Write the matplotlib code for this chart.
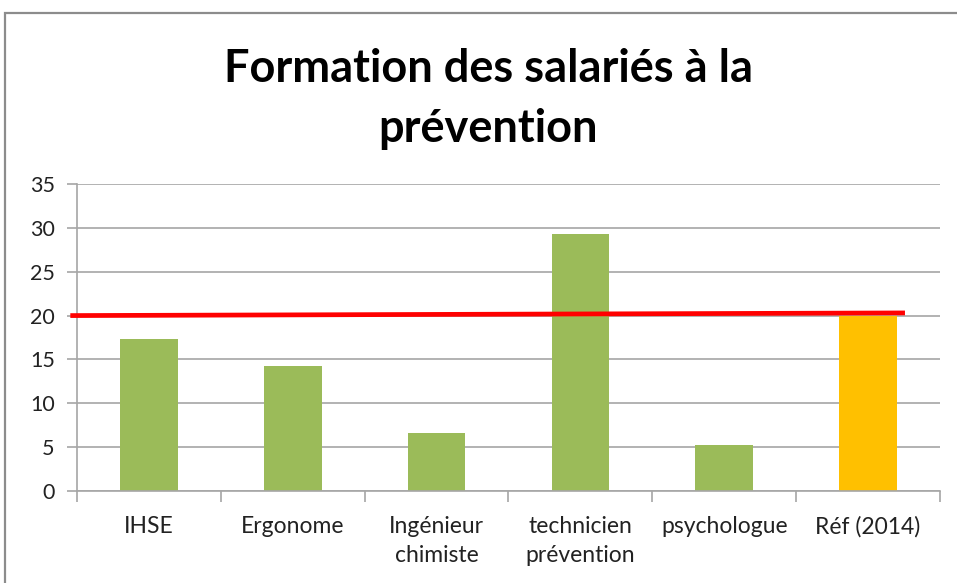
import numpy as np
import matplotlib
matplotlib.use("Agg")
from matplotlib import pyplot as plt
from matplotlib.patches import Rectangle

# data
categories = ["IHSE", "Ergonome", "Ingénieur\nchimiste", "technicien\nprévention", "psychologue", "Réf (2014)"]
values = [17.3, 14.2, 6.6, 29.3, 5.3, 20.0]
bar_colors = ["#9BBB59", "#9BBB59", "#9BBB59", "#9BBB59", "#9BBB59", "#FFC000"]
ref_line_x = [-0.53, 5.24]
ref_line_y = [20.0, 20.3]

plt.rcParams['font.family'] = ['Lato', 'DejaVu Sans']

fig = plt.figure(figsize=(9.57, 5.83), dpi=100)
ax = fig.add_axes([77/957, 1 - 491/583, (940-77)/957, (491-184)/583])

x = np.arange(len(categories))
ax.bar(x, values, width=0.4, color=bar_colors, zorder=2)
ax.plot(ref_line_x, ref_line_y, color="#FF0000", lw=3.4, zorder=3, clip_on=False)

ax.set_xlim(-0.5, len(categories) - 0.5)
ax.set_ylim(0, 35)
ax.set_yticks(range(0, 36, 5))
ax.yaxis.grid(True, color="#a6a6a6", lw=1.2, zorder=0)
ax.set_axisbelow(True)

ax.set_xticks(x)
ax.set_xticklabels(categories, fontsize=16.5, color="#222222", va="top", linespacing=1.5)
ax.set_xticks(np.arange(-0.5, len(categories)), minor=True)
ax.tick_params(axis="x", which="major", length=0, pad=18)
ax.tick_params(axis="x", which="minor", length=8, color="#a6a6a6", width=1.2)
ax.tick_params(axis="y", length=7, color="#a6a6a6", width=1.2, labelsize=15.5, labelcolor="#222222", pad=9)

for s in ["top", "right"]:
    ax.spines[s].set_visible(False)
for s in ["left", "bottom"]:
    ax.spines[s].set_color("#a6a6a6")
    ax.spines[s].set_linewidth(1.2)

fig.text(488/957, 1 - 99/583, "Formation des salariés à la\nprévention", ha="center", va="center",
         fontsize=32.5, fontweight="bold", linespacing=1.5)

# outer chart border
fig.patches.append(Rectangle((5/957, -0.1), 1.1, 1 - 13/583 + 0.1, transform=fig.transFigure,
                             fill=False, edgecolor="#8c8c8c", lw=1.6))

fig.savefig("out.png", dpi=100)
